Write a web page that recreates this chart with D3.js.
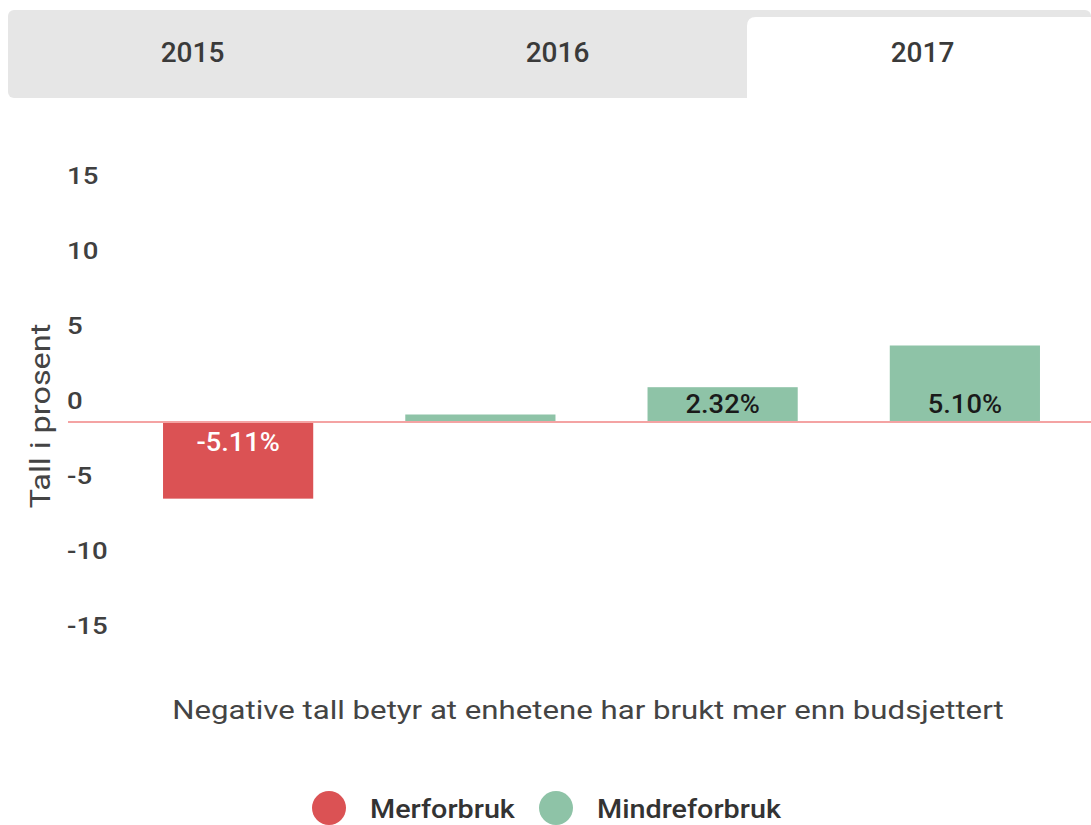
<!DOCTYPE html>
<html lang="no">
<head>
<meta charset="UTF-8">
<title>Avvik i prosent</title>
<script src="https://d3js.org/d3.v7.min.js"></script>
<style>
  body { margin: 0; background: #fff; }
  text { font-family: Roboto, "Noto Sans", sans-serif; }
</style>
</head>
<body>
<script>
    // data
    var tabYears = ["2015", "2016", "2017"];
    var activeTab = "2017";
    var barCats = ["a", "b", "c", "d"];
    var barValues = [-5.11, 0.5, 2.32, 5.10];
    var barLabels = ["-5.11%", "", "2.32%", "5.10%"];
    var yTicks = [15, 10, 5, 0, -5, -10, -15];
    var legendNames = ["Merforbruk", "Mindreforbruk"];
    var legendColors = ["#db5254", "#8ec3a7"];

    var W = 1091, H = 825;
    var sx = 1.15; // text in the picture is a little wider than Roboto

    var svg = d3.select("body").append("svg")
        .attr("width", W)
        .attr("height", H);

    // tabs
    svg.append("rect")
        .attr("x", 8).attr("y", 10)
        .attr("width", W - 8).attr("height", 88)
        .attr("rx", 6)
        .style("fill", "#e6e6e6");

    var tabScale = d3.scaleBand().domain(tabYears).range([10, 1105]);
    svg.append("path")
        .attr("d", function() {
            var x0 = tabScale(activeTab) + 7, x1 = W + 10, y0 = 17, y1 = 98, r = 9;
            return "M" + x0 + "," + y1 + "V" + (y0 + r) + "Q" + x0 + "," + y0 + " " + (x0 + r) + "," + y0 +
                "H" + x1 + "V" + y1 + "Z";
        })
        .style("fill", "#fff");

    svg.selectAll(".tab")
        .data(tabYears)
        .enter().append("text")
        .attr("class", "tab")
        .attr("transform", function(d) { return "translate(" + (tabScale(d) + tabScale.bandwidth() / 2) + ",62)"; })
        .attr("text-anchor", "middle")
        .style("font-size", "28px")
        .style("font-weight", 500)
        .style("fill", "#3a3a3a")
        .text(function(d) { return d; });

    // scales
    var yScale = d3.scaleLinear().domain([-15, 15]).range([647, 197]);
    var xScale = d3.scaleBand().domain(barCats).range([117, 1086])
        .paddingInner(0.38).paddingOuter(0.19);

    // y tick labels (sit above their value)
    svg.selectAll(".ytick")
        .data(yTicks)
        .enter().append("text")
        .attr("class", "ytick")
        .attr("transform", function(d) { return "translate(67," + (yScale(d) - 13) + ") scale(" + sx + ",1)"; })
        .style("font-size", "24px")
        .style("font-weight", 500)
        .style("fill", "#404040")
        .text(function(d) { return d; });

    svg.append("text")
        .attr("transform", "translate(50,416) rotate(-90) scale(1.2,1)")
        .attr("text-anchor", "middle")
        .style("font-size", "27px")
        .style("fill", "#444")
        .text("Tall i prosent");

    // bars
    svg.selectAll(".bar")
        .data(barValues)
        .enter().append("rect")
        .attr("class", "bar")
        .attr("x", function(d, i) { return xScale(barCats[i]); })
        .attr("y", function(d) { return yScale(Math.max(0, d)); })
        .attr("width", xScale.bandwidth())
        .attr("height", function(d) { return Math.abs(yScale(d) - yScale(0)); })
        .style("fill", function(d) { return d < 0 ? legendColors[0] : legendColors[1]; });

    // zero line
    svg.append("line")
        .attr("x1", 68).attr("x2", W)
        .attr("y1", yScale(0)).attr("y2", yScale(0))
        .style("stroke", "#f4a3a3")
        .style("stroke-width", 2);

    // bar labels
    svg.selectAll(".blabel")
        .data(barValues)
        .enter().append("text")
        .attr("class", "blabel")
        .attr("transform", function(d, i) {
            var cx = xScale(barCats[i]) + xScale.bandwidth() / 2;
            var y = d < 0 ? yScale(0) + 29 : yScale(0) - 9;
            return "translate(" + cx + "," + y + ") scale(1.05,1)";
        })
        .attr("text-anchor", "middle")
        .style("font-size", "26px")
        .style("font-weight", 500)
        .style("fill", function(d) { return d < 0 ? "#fff" : "#1a1a1a"; })
        .text(function(d, i) { return barLabels[i]; });

    // note
    svg.append("text")
        .attr("transform", "translate(588,719) scale(1.2,1)")
        .attr("text-anchor", "middle")
        .style("font-size", "26px")
        .style("fill", "#444")
        .text("Negative tall betyr at enhetene har brukt mer enn budsjettert");

    // legend
    var legendX = d3.scaleOrdinal().domain(legendNames).range([329, 556]);
    var leg = svg.selectAll(".leg")
        .data(legendNames)
        .enter().append("g")
        .attr("class", "leg")
        .attr("transform", function(d) { return "translate(" + legendX(d) + ",808)"; });
    leg.append("circle")
        .attr("r", 17)
        .style("fill", function(d, i) { return legendColors[i]; });
    leg.append("text")
        .attr("transform", "translate(41,10) scale(" + sx + ",1)")
        .style("font-size", "25px")
        .style("font-weight", 500)
        .style("fill", "#333")
        .text(function(d) { return d; });
</script>
</body>
</html>
